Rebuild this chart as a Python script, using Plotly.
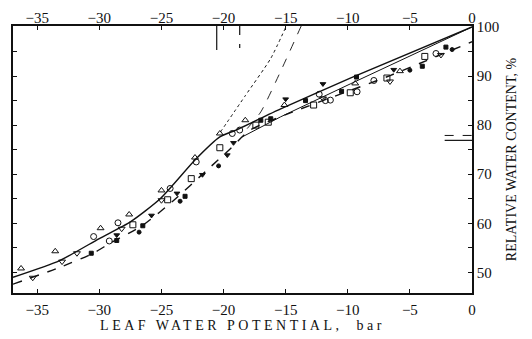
import plotly.graph_objects as go

# ---- axis ticks ----
x_ticks = [-35, -30, -25, -20, -15, -10, -5, 0]
x_ticktext = ["\u221235", "\u221230", "\u221225", "\u221220", "\u221215", "\u221210", "\u22125", "0"]
y_ticks = [50, 60, 70, 80, 90, 100]
y_minor_ticks = [55, 65, 75, 85, 95]

# ---- fitted curves ----
solid_x = [-36.95, -33.2, -30.0, -27.5, -25.1, -22.3, -20.3, -19.0, -15.4, -9.8, 0.0]
solid_y = [49.0, 52.4, 56.9, 60.3, 65.0, 72.9, 77.6, 79.0, 83.3, 89.6, 100.0]

dashed_x = [-36.95, -33.2, -30.5, -29.1, -26.5, -24.0, -21.35, -19.45, -17.85, -6.6, 0.0]
dashed_y = [47.6, 51.0, 53.9, 56.0, 59.6, 64.7, 70.8, 75.2, 79.0, 90.1, 97.0]

thin_x = [-18.5, -15.4, -9.8, 0.0]
thin_y = [77.6, 81.7, 88.4, 100.0]

dot1_x = [-20.25, -18.25, -16.2, -14.95]
dot1_y = [78.6, 86.0, 93.6, 100.2]

dot2_x = [-18.1, -17.0, -15.4, -13.75]
dot2_y = [79.3, 82.7, 91.0, 100.2]

# turgor-loss markers
tlp_solid_psi = -20.55
tlp_dashed_psi = -18.7
tlp_solid_rwc = 76.9
tlp_dashed_rwc = 77.9

# ---- observations ----
tri_up_x = [-36.3, -33.55, -29.9, -27.6, -25.0, -22.3, -20.3, -18.25, -15.1, -9.4, -5.8]
tri_up_y = [50.8, 54.3, 59.0, 61.8, 66.7, 73.4, 78.3, 81.0, 84.1, 88.5, 91.0]

circle_x = [-30.46, -29.2, -28.5, -24.3, -22.2, -19.3, -18.7, -12.3, -11.8, -11.4, -9.25, -7.9, -2.9]
circle_y = [57.3, 56.4, 60.1, 67.1, 72.5, 78.3, 79.0, 86.3, 85.0, 85.1, 86.8, 89.1, 94.6]

square_x = [-27.3, -24.5, -22.6, -20.3, -17.4, -16.4, -12.75, -9.8, -6.85, -3.8]
square_y = [59.7, 64.8, 69.1, 75.4, 80.0, 80.6, 84.1, 86.6, 89.6, 94.0]

tri_down_x = [-35.36, -33.0, -31.8, -28.2, -25.0, -12.0, -6.6, -2.5]
tri_down_y = [48.9, 52.2, 53.9, 58.9, 64.7, 85.45, 88.9, 94.3]

tri_down_f_x = [-28.6, -25.8, -23.75, -21.7, -19.7, -19.2, -15.0, -12.0, -6.3]
tri_down_f_y = [57.6, 61.6, 66.1, 69.9, 73.9, 76.4, 85.3, 88.4, 91.3]

square_f_x = [-30.65, -28.6, -26.5, -23.1, -17.0, -16.2, -13.4, -10.5, -9.3, -4.0, -2.1]
square_f_y = [53.9, 56.5, 59.5, 65.5, 81.0, 81.3, 85.0, 86.9, 89.8, 92.0, 95.9]

circle_f_x = [-26.8, -23.5, -20.4, -5.0, -1.6]
circle_f_y = [58.2, 64.5, 71.7, 91.2, 95.4]

X_RANGE = [-36.95, 0.0]
Y_RANGE = [45.8, 100.2]
INK = "#111111"

fig = go.Figure()

def line(x, y, dash="solid", width=1.3, shape="spline", xaxis="x", smoothing=0.6):
    ln = dict(color=INK, width=width, dash=dash, shape=shape)
    if shape == "spline":
        ln["smoothing"] = smoothing
    fig.add_trace(go.Scatter(x=x, y=y, mode="lines", xaxis=xaxis, line=ln,
                             hoverinfo="skip"))

line(solid_x, solid_y, "solid", 1.4)
line(dashed_x, dashed_y, "dash", 1.4)
line(thin_x, thin_y, "solid", 1.0, "linear")
line(dot1_x, dot1_y, "dot", 1.0)
line(dot2_x, dot2_y, "dash", 0.9)

# turgor loss point markers (top and right edges)
line([tlp_solid_psi, tlp_solid_psi], [Y_RANGE[1], 95.3], "solid", 1.2, "linear", "x2")
line([tlp_dashed_psi, tlp_dashed_psi], [Y_RANGE[1], 95.7], "dash", 1.2, "linear", "x2")
line([-2.2, 0.0], [tlp_solid_rwc, tlp_solid_rwc], "solid", 1.2, "linear")
line([-2.2, 0.0], [tlp_dashed_rwc, tlp_dashed_rwc], "dash", 1.0, "linear")

def pts(x, y, symbol, size=6):
    fig.add_trace(go.Scatter(x=x, y=y, mode="markers",
                             marker=dict(symbol=symbol, size=size, color=INK,
                                         line=dict(color=INK, width=1)),
                             hoverinfo="skip"))

pts(tri_up_x, tri_up_y, "triangle-up-open", 6)
pts(circle_x, circle_y, "circle-open", 6)
pts(square_x, square_y, "square-open", 6)
pts(tri_down_x, tri_down_y, "triangle-down-open", 6)
pts(tri_down_f_x, tri_down_f_y, "triangle-down", 5)
pts(square_f_x, square_f_y, "square", 4)
pts(circle_f_x, circle_f_y, "circle", 4)

axis_common = dict(
    range=X_RANGE, tickvals=x_ticks, ticktext=x_ticktext,
    ticks="inside", ticklen=4, tickwidth=1, tickcolor=INK,
    showline=True, linecolor=INK, linewidth=1.6,
    showgrid=False, zeroline=False, automargin=False,
    tickfont=dict(family="Liberation Serif", size=15, color=INK),
)

fig.update_layout(
    template="none",
    width=524, height=331,
    margin=dict(l=5, r=60, t=18, b=46, pad=0),
    paper_bgcolor="white", plot_bgcolor="white",
    showlegend=False,
    font=dict(family="Liberation Serif", size=15, color=INK),
    xaxis=dict(**axis_common, ticklabelstandoff=2,
               title=dict(text='<span style="letter-spacing:3.5px">LEAF WATER POTENTIAL,\u00a0 bar</span>',
                          font=dict(family="Liberation Serif", size=14, color=INK),
                          standoff=0)),
    xaxis2=dict(**axis_common, overlaying="x", side="top", matches="x",
                ticklabelstandoff=-5),
    yaxis=dict(side="right", range=Y_RANGE, tickvals=y_ticks,
               ticks="inside", ticklen=4, tickwidth=1, tickcolor=INK,
               minor=dict(tickvals=y_minor_ticks, ticks="inside", ticklen=4, tickcolor=INK),
               showline=True, mirror="ticks", linecolor=INK, linewidth=1.6,
               showgrid=False, zeroline=False, automargin=False,
               tickfont=dict(family="Liberation Serif", size=15, color=INK),
               title=dict(text="RELATIVE WATER CONTENT, %",
                          font=dict(family="Liberation Serif", size=14, color=INK),
                          standoff=8)),
)

fig.write_html("out.html")
